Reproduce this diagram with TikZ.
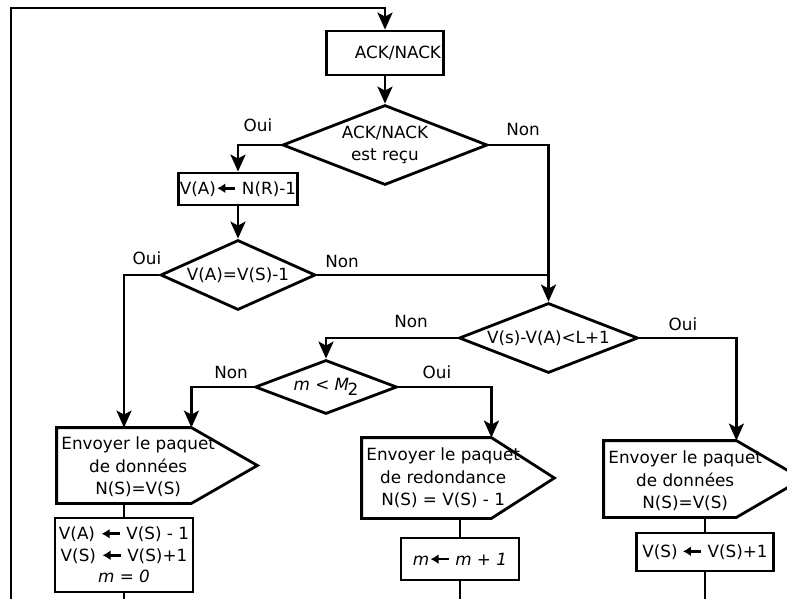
\documentclass[tikz,border=0pt]{standalone}
\usepackage{fontspec}
\setmainfont{DejaVu Sans}
\usetikzlibrary{arrows.meta,shapes.geometric,calc}
\newcommand{\larrow}{\tikz[baseline=-6pt]\draw[line width=2.6pt,-{Latex[length=8pt,width=10pt]}] (18pt,0pt) -- (0pt,0pt);}
\begin{document}
\begin{tikzpicture}[x=1pt,y=-1pt,line width=2.8pt,
  arr/.style={-{Stealth[length=17pt,width=15pt,inset=4pt]}},
  box/.style={draw,rectangle,inner sep=0pt,line width=2.8pt},
  dia/.style={draw,diamond,inner sep=0pt,line width=2.8pt},
  body/.style={rectangle,inner sep=0pt},
  lbl/.style={inner sep=0pt},
  txt/.style={inner sep=0pt,align=center,anchor=west},
  every node/.style={font=\fontsize{16.8}{22.5}\selectfont}]
\useasboundingbox (0,0) rectangle (787,599);

% nodes
\node[box,minimum width=117pt,minimum height=44pt,text width=112pt,align=right] (ack) at (385,53) {ACK/NACK};
\node[dia,aspect=2.56,minimum width=205pt,minimum height=80pt,align=center] (d1) at (385,145) {ACK/NACK\\est reçu};
\node[box,minimum width=119pt,minimum height=32pt] (b2) at (238,189) {V(A)\larrow{} N(R)-1};
\node[dia,aspect=2.21,minimum width=155pt,minimum height=70pt] (d2) at (238,275) {V(A)=V(S)-1};
\node[dia,aspect=2.56,minimum width=179pt,minimum height=70pt] (d3) at (548.5,338) {V(s)-V(A)<L+1};
\node[dia,aspect=2.63,minimum width=142pt,minimum height=54pt] (d4) at (326,387) {\textit{m} < \textit{M}\kern-1.5pt\raisebox{-5pt}{2}};

% send shapes (rectangular bodies + pointed outline)
\node[body,minimum width=132pt,minimum height=73pt] (s1) at (124,465.5) {};
\draw (s1.north west) -- (s1.north east) -- ($(s1.east)+(66,0)$) -- (s1.south east) -- (s1.south west) -- cycle;
\node[txt] (t1) at (60,467) {Envoyer le paquet\\de données\\N(S)=V(S)};

\node[body,minimum width=127pt,minimum height=78pt] (s2) at (426.5,478) {};
\draw (s2.north west) -- (s2.north east) -- ($(s2.east)+(63,0)$) -- (s2.south east) -- (s2.south west) -- cycle;
\node[txt] (t2) at (365,478) {Envoyer le paquet\\de redondance\\N(S) = V(S) - 1};

\node[body,minimum width=130pt,minimum height=74pt] (s3) at (670,479) {};
\draw (s3.north west) -- (s3.north east) -- ($(s3.east)+(66,0)$) -- (s3.south east) -- (s3.south west) -- cycle;
\node[txt] (t3) at (607,481) {Envoyer le paquet\\de données\\N(S)=V(S)};

\node[box,minimum width=138pt,minimum height=74pt,align=center,font=\fontsize{16.8}{21.5}\selectfont] (a1) at (124,555) {V(A) \larrow{} V(S) - 1\\V(S) \larrow{} V(S)+1\\\textit{m = 0}};
\node[box,minimum width=118pt,minimum height=42pt] (a2) at (460,559) {\textit{m}\larrow{} \textit{m + 1}};
\node[box,minimum width=137pt,minimum height=38pt] (a3) at (705,552) {V(S)\hspace{4pt}\larrow{} V(S)+1};

% labels
\node[lbl] (oui1) at (258,125) {Oui};
\node[lbl] (non1) at (523,129) {Non};
\node[lbl] (non2) at (342,261) {Non};
\node[lbl] (oui2) at (147,258) {Oui};
\node[lbl] (non3) at (411,321) {Non};
\node[lbl] (oui3) at (683,324) {Oui};
\node[lbl] (non4) at (231,372) {Non};
\node[lbl] (oui4) at (437,372) {Oui};

% free ends
\coordinate (loopstart) at (11,599);
\coordinate (looptop) at (11,8);
\coordinate (e1) at (124,599);
\coordinate (e2) at (460,599);
\coordinate (e3) at (705,599);

% connectors
\draw[arr] (loopstart) -- (looptop) -| (ack.north);
\draw[arr] (ack.south) -- (d1.north);
\draw[arr] (d1.west) -| (b2.north);
\draw[arr] (b2.south) -- (d2.north);
\draw[arr] (d1.east) -| (d3.north);
\draw (d2.east) -- (d2.east -| d3.north);
\draw[arr] (d3.west) -| (d4.north);
\draw[arr] (d3.east) -| (s3.north east);
\draw[arr] (d4.west) -| (s1.north east);
\draw[arr] (d4.east) -| (s2.north east);
\draw[arr] (d2.west) -| (s1.north);
\draw (s1.south) -- (a1.north);
\draw (s2.south -| a2.north) -- (a2.north);
\draw (s3.south -| a3.north) -- (a3.north);
\draw (a1.south) -- (e1);
\draw (a2.south) -- (e2);
\draw (a3.south) -- (e3);
\end{tikzpicture}
\end{document}
